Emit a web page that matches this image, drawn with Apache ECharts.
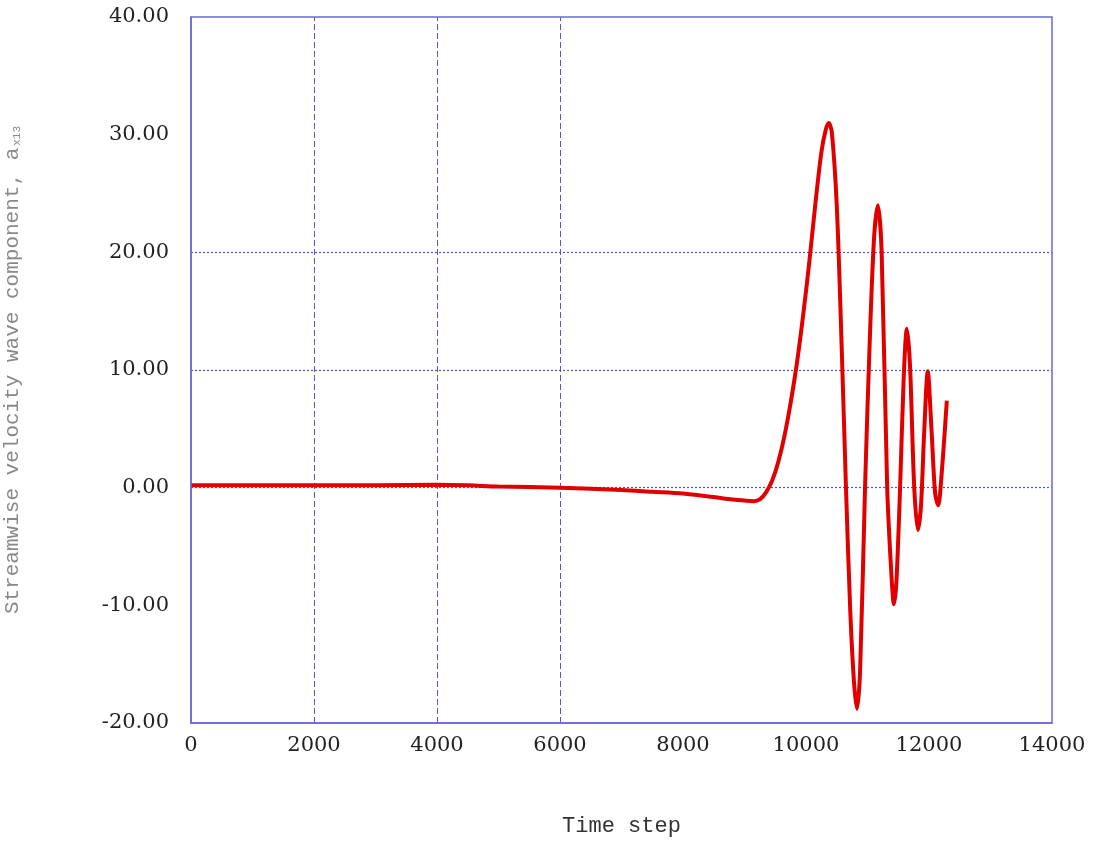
<!DOCTYPE html>
<html><head><meta charset="utf-8">
<script src="https://cdn.jsdelivr.net/npm/echarts@6/dist/echarts.min.js"></script>
<style>html,body{margin:0;padding:0;background:#fff}#c{width:1095px;height:845px}</style>
</head><body><div id="c"></div>
<script>
const steps = [0,1000,2000,3000,4000,4500,5000,6000,7000,7500,8000,8500,8800,9000,9150,9250,9350,9450,9550,9650,9750,9850,9950,10050,10150,10250,10320,10370,10420,10500,10580,10650,10720,10780,10830,10880,10960,11040,11110,11170,11230,11320,11390,11430,11470,11530,11590,11640,11690,11760,11820,11870,11920,11980,12040,12100,12150,12200,12290];
const values = [0.2,0.2,0.2,0.2,0.25,0.2,0.1,0.0,-0.2,-0.35,-0.5,-0.8,-1.0,-1.1,-1.15,-1.0,-0.4,0.6,2.2,4.4,7.2,10.5,14.5,19,24,28.5,30.4,31,30.2,24,12,0,-10.5,-16.5,-18.8,-15.5,0,13,21.5,24,20,0,-7.5,-9.9,-8,0,9.5,13.5,10.5,0,-3.6,-1.5,4.5,9.9,5,-0.5,-1.5,0.8,7.4];
const xTicks = [0,2000,4000,6000,8000,10000,12000,14000];
const vGrid = [2000,4000,6000];
const hGrid = [0,10,20];
const data = steps.map((s,i)=>[s,values[i]]);
const gridColor = '#5555cc';
const chart = echarts.init(document.getElementById('c'));
chart.setOption({
  animation:false,
  grid:{left:191,right:43,top:17,bottom:122,containLabel:false,outerBoundsMode:'none'},
  xAxis:{type:'value',min:0,max:14000,interval:2000,
    axisLine:{show:true,onZero:false,lineStyle:{color:'#6a6ad8',width:1.5}},
    axisTick:{show:false},splitLine:{show:false},
    axisLabel:{color:'#222',fontFamily:'DejaVu Serif',fontSize:21,margin:12,formatter:v=>String(v)},
    name:'Time step',nameLocation:'middle',nameGap:92,
    nameTextStyle:{color:'#333',fontFamily:'Liberation Mono',fontSize:22}},
  yAxis:{type:'value',min:-20,max:40,interval:10,
    axisLine:{show:true,onZero:false,lineStyle:{color:'#6a6ad8',width:1.5}},
    axisTick:{show:false},splitLine:{show:false},
    axisLabel:{color:'#222',fontFamily:'DejaVu Serif',fontSize:21,margin:22,formatter:v=>v.toFixed(2)},
    name:'{a|Streamwise velocity wave component, a}{s|x13}',nameLocation:'middle',nameGap:168,
    nameTextStyle:{rich:{a:{color:'#888',fontFamily:'Liberation Mono',fontSize:21},s:{color:'#888',fontFamily:'Liberation Mono',fontSize:11,verticalAlign:'bottom',padding:[0,0,0,2]}}}},
  graphic:[{type:'rect',shape:{x:191,y:17,width:861,height:706},style:{fill:'none',stroke:'#6a6ad8',lineWidth:1.5},z:10}],
  series:[{type:'line',data:data,smooth:0.3,showSymbol:false,
    lineStyle:{color:'#e00000',width:4},z:5,
    markLine:{silent:true,symbol:'none',label:{show:false},
      data:[...vGrid.map(v=>({xAxis:v,lineStyle:{type:[6,3],color:gridColor,width:1}})),
            ...hGrid.map(v=>({yAxis:v,lineStyle:{type:[2,2],color:gridColor,width:1.2}}))]}}]
});
</script></body></html>
